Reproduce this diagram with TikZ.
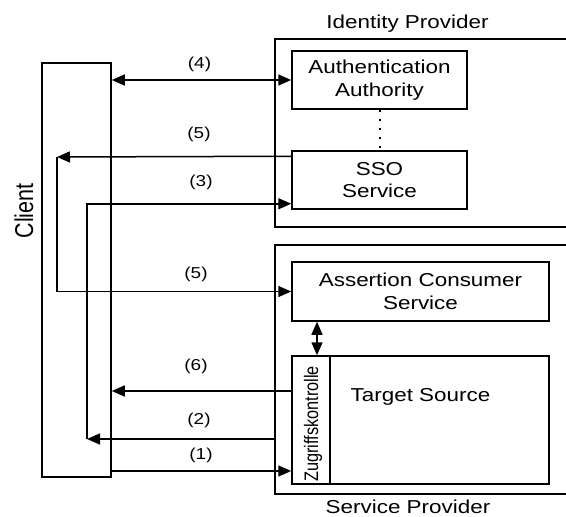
\documentclass[tikz,border=0pt]{standalone}
\usepackage{fontspec}
\setmainfont{Liberation Sans}
\newfontfamily\widefont[FakeStretch=1.2]{Liberation Sans}
\usetikzlibrary{arrows.meta}
\newcommand\boxfnt{\widefont\fontsize{18.7}{22.5}\selectfont}
\newcommand\stepfnt{\widefont\fontsize{15.8}{18}\selectfont}
\begin{document}
\begin{tikzpicture}[x=1pt,y=-1pt,
  box/.style={draw, line width=1.5pt, inner sep=0pt, align=center, font=\boxfnt},
  frame/.style={draw, line width=1.5pt, inner sep=0pt},
  title/.style={inner sep=0pt, font=\boxfnt},
  steplabel/.style={inner sep=0pt, font=\stepfnt},
  flow/.style={line width=1.5pt, -{Triangle[length=13pt,width=11pt]}},
  both/.style={line width=1.5pt, {Triangle[length=13pt,width=11pt]}-{Triangle[length=13pt,width=11pt]}}]
\useasboundingbox (0,0) rectangle (566,517);
\clip (0,0) rectangle (566,517);

% provider frames (open to the right)
\node[frame, minimum width=325pt, minimum height=188pt] (idp) at (437.5,133) {};
\node[frame, minimum width=325pt, minimum height=249pt] (sp) at (437.5,369.5) {};
\node[title] (idptitle) at (407.5,23.5) {Identity Provider};
\node[title] (sptitle) at (408,506.5) {Service Provider};

% client
\node[frame, minimum width=69pt, minimum height=414pt] (client) at (76.5,270) {};
\node[inner sep=0pt, rotate=90] (clientlabel) at (24,211)
  {\scalebox{1}[1.2]{\fontsize{21.5}{24}\selectfont Client}};

% identity provider components
\node[box, minimum width=175pt, minimum height=58pt] (auth) at (379.5,80) {Authentication\\Authority};
\node[box, minimum width=175pt, minimum height=58pt] (sso) at (379.5,180) {SSO\\Service};
\draw[line width=2pt, dash pattern=on 2.5pt off 6.5pt] (auth.south) -- (sso.north);

% service provider components
\node[box, minimum width=257pt, minimum height=59pt] (acs) at (420.5,291.5) {Assertion Consumer\\Service};
\node[box, minimum width=257pt, minimum height=128pt] (target) at (420.5,420) {};
\node[frame, minimum width=38pt, minimum height=128pt] (zug) at (311,420) {};
\node[title] (targetlabel) at (420.5,397) {Target Source};
\node[inner sep=0pt, rotate=90] (zuglabel) at (313,424)
  {\scalebox{1}[1.2]{\fontsize{16.3}{18}\selectfont Zugriffskontrolle}};
\coordinate (zx) at (317,0);
\draw[both] (acs.south -| zx) -- (zug.north -| zx);

% turning points of the redirect paths
\coordinate (k5) at (57,157);
\coordinate (k2) at (87,439);

% (4) client <-> authentication authority
\draw[both] (client.east |- auth.west) -- (auth.west);
\node[steplabel] (l4) at (199.5,64.5) {(4)};

% (5) SSO -> client -> assertion consumer service
\draw[flow] ([yshift=-6pt]sso.north west) -- (k5);
\draw[flow] (k5) |- (acs.west);
\node[steplabel] (l5a) at (199,134.5) {(5)};
\node[steplabel] (l5b) at (196,274.5) {(5)};

% (3) redirect to SSO
\draw[flow] (k2) |- ([yshift=6pt]sso.south west);
\node[steplabel] (l3) at (201,182.5) {(3)};

% (2) service provider -> client
\draw[flow] (sp.west |- k2) -- (k2);
\node[steplabel] (l2) at (199,420.5) {(2)};

% (6) resource delivered to client
\coordinate (y6) at (0,391);
\draw[flow] (zug.west |- y6) -- (client.east |- y6);
\node[steplabel] (l6) at (196,366.5) {(6)};

% (1) initial request
\coordinate (y1) at (0,471);
\draw[flow] (client.east |- y1) -- (zug.west |- y1);
\node[steplabel] (l1) at (201,455.5) {(1)};
\end{tikzpicture}
\end{document}
